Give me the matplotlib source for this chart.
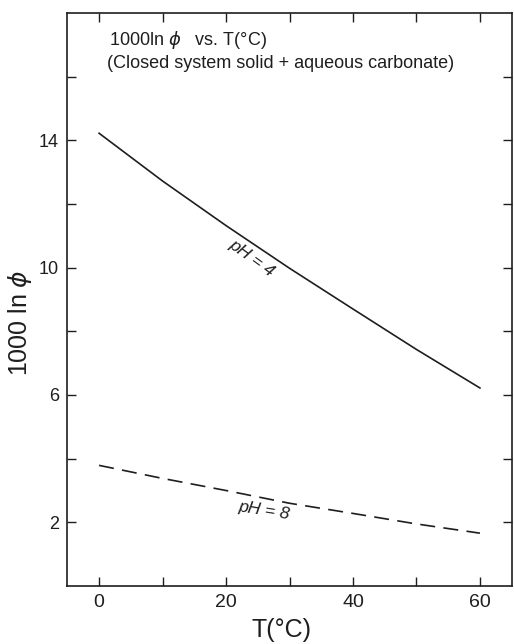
import matplotlib
matplotlib.use("Agg")
import matplotlib.pyplot as plt

plt.rcParams['font.family'] = ['Liberation Sans', 'DejaVu Sans']

# 1000 ln(phi) vs temperature, closed system
temp_c = [0, 10, 20, 30, 40, 50, 60]
ph4_vals = [14.22, 12.72, 11.32, 9.98, 8.70, 7.43, 6.22]
ph8_vals = [3.79, 3.38, 3.00, 2.60, 2.28, 1.95, 1.66]

x_ticks = [0, 10, 20, 30, 40, 50, 60]
x_ticklabels = ['0', '', '20', '', '40', '', '60']
y_ticks = [2, 4, 6, 8, 10, 12, 14, 16]
y_ticklabels = ['2', '', '6', '', '10', '', '14', '']

ink = '#1e1e1e'

fig = plt.figure(figsize=(5.14, 6.44), dpi=100)
ax = fig.add_axes([0.131, 0.090, 0.8645, 0.890])

ax.plot(temp_c, ph4_vals, color=ink, lw=1.2)
ax.plot(temp_c, ph8_vals, color=ink, lw=1.2, linestyle=(0, (9, 5)))

ax.text(24.0, 10.30, 'pH = 4', rotation=-36, ha='center', va='center',
        fontsize=12.5, color=ink, style='italic')
ax.text(26.0, 2.38, 'pH = 8', rotation=-9, ha='center', va='center',
        fontsize=12.5, color=ink, style='italic')

ax.text(1.6, 17.14, '1000ln $\\phi$   vs. T(°C)', ha='left', va='center',
        fontsize=13, color=ink)
ax.text(1.3, 16.4, '(Closed system solid + aqueous carbonate)', ha='left',
        va='center', fontsize=13, color=ink)

ax.set_xlim(-5, 65)
ax.set_ylim(0, 18)
ax.set_xticks(x_ticks)
ax.set_xticklabels(x_ticklabels)
ax.set_yticks(y_ticks)
ax.set_yticklabels(y_ticklabels)

ax.tick_params(axis='both', direction='in', length=6.5, width=1.0,
               top=True, right=True, colors=ink)
ax.tick_params(axis='x', labelsize=14, pad=6)
ax.tick_params(axis='y', labelsize=13, pad=6)
for sp in ax.spines.values():
    sp.set_linewidth(1.2)
    sp.set_color(ink)

ax.set_xlabel('T(°C)', fontsize=18, color=ink)
ax.set_ylabel('1000 ln $\\phi$', fontsize=18, color=ink)
ax.xaxis.set_label_coords(0.483, -0.056)
ax.yaxis.set_label_coords(-0.075, 0.46)

fig.savefig('out.png', dpi=100, facecolor='white')
